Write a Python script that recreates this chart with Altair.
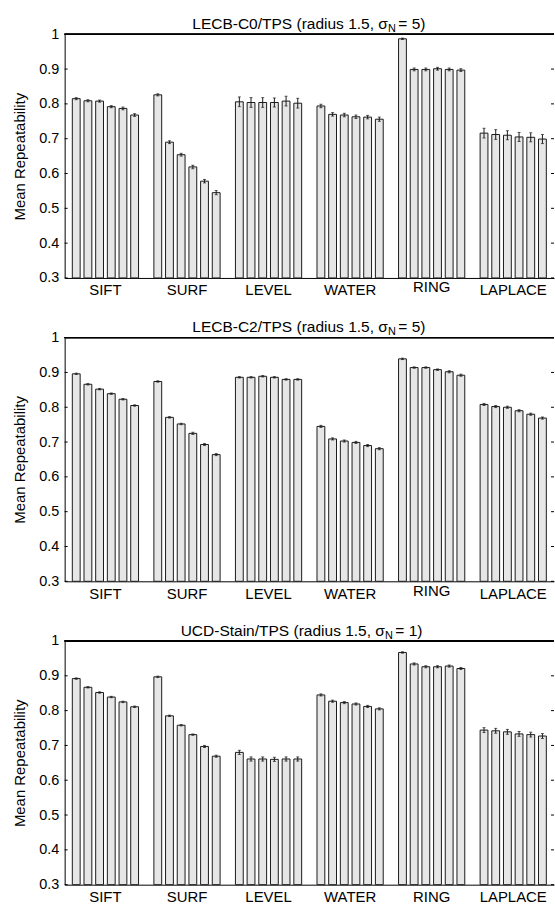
import altair as alt
import pandas as pd

groups = ["SIFT", "SURF", "LEVEL", "WATER", "RING", "LAPLACE"]
y_ticks = [0.3, 0.4, 0.5, 0.6, 0.7, 0.8, 0.9, 1.0]

# Panel 1: LECB-C0/TPS
c0_means = [
    [0.815, 0.809, 0.808, 0.792, 0.787, 0.768],
    [0.826, 0.690, 0.654, 0.619, 0.578, 0.545],
    [0.806, 0.804, 0.804, 0.804, 0.808, 0.802],
    [0.794, 0.770, 0.768, 0.763, 0.762, 0.756],
    [0.987, 0.899, 0.899, 0.901, 0.899, 0.897],
    [0.716, 0.712, 0.710, 0.705, 0.704, 0.699],
]
c0_errs = [
    [0.003, 0.003, 0.003, 0.003, 0.004, 0.004],
    [0.003, 0.004, 0.004, 0.005, 0.005, 0.006],
    [0.014, 0.014, 0.014, 0.013, 0.014, 0.014],
    [0.005, 0.005, 0.005, 0.005, 0.005, 0.006],
    [0.002, 0.004, 0.004, 0.004, 0.004, 0.004],
    [0.014, 0.014, 0.013, 0.013, 0.013, 0.013],
]

# Panel 2: LECB-C2/TPS
c2_means = [
    [0.896, 0.866, 0.852, 0.839, 0.823, 0.805],
    [0.874, 0.771, 0.752, 0.725, 0.693, 0.664],
    [0.886, 0.886, 0.889, 0.886, 0.880, 0.880],
    [0.745, 0.709, 0.703, 0.699, 0.690, 0.681],
    [0.939, 0.914, 0.914, 0.908, 0.902, 0.892],
    [0.808, 0.802, 0.800, 0.790, 0.780, 0.769],
]
c2_errs = [
    [0.002, 0.002, 0.002, 0.002, 0.002, 0.002],
    [0.002, 0.002, 0.002, 0.003, 0.003, 0.003],
    [0.002, 0.002, 0.002, 0.002, 0.002, 0.002],
    [0.003, 0.003, 0.003, 0.003, 0.003, 0.003],
    [0.002, 0.002, 0.002, 0.002, 0.003, 0.003],
    [0.003, 0.003, 0.003, 0.003, 0.003, 0.003],
]

# Panel 3: UCD-Stain/TPS
ucd_means = [
    [0.892, 0.867, 0.852, 0.839, 0.825, 0.811],
    [0.897, 0.785, 0.758, 0.731, 0.697, 0.669],
    [0.680, 0.661, 0.661, 0.660, 0.661, 0.661],
    [0.845, 0.827, 0.823, 0.819, 0.812, 0.805],
    [0.967, 0.934, 0.926, 0.926, 0.928, 0.921],
    [0.744, 0.742, 0.739, 0.733, 0.731, 0.727],
]
ucd_errs = [
    [0.002, 0.002, 0.002, 0.002, 0.002, 0.002],
    [0.002, 0.002, 0.002, 0.002, 0.003, 0.003],
    [0.006, 0.006, 0.006, 0.006, 0.006, 0.006],
    [0.003, 0.003, 0.003, 0.003, 0.003, 0.003],
    [0.002, 0.003, 0.003, 0.003, 0.003, 0.003],
    [0.007, 0.007, 0.007, 0.007, 0.007, 0.007],
]

titles = [
    ("LECB-C0/TPS (radius 1.5, \u03c3", "= 5)", 325.0, True),
    ("LECB-C2/TPS (radius 1.5, \u03c3", "= 5)", 325.0, True),
    ("UCD-Stain/TPS (radius 1.5, \u03c3", "= 1)", 322.0, False),
]

W, H = 492, 245
FONT = "Liberation Sans"
INK = "#1a1a1a"

yaxis = alt.Axis(values=y_ticks, title="Mean Repeatability", titleFontSize=15,
                 titleFontWeight="normal", labelFontSize=14.5, tickSize=0,
                 labelPadding=6, grid=False, domainColor="black",
                 labelColor="black", titleColor="black", titlePadding=11,
                 labelFont=FONT, titleFont=FONT,
                 labelExpr="datum.value == 1 ? '1' : format(datum.value, '.1f')")


def panel(means, errs, title_main, title_tail, sigma_x, ring_raised):
    rows = []
    for gi, g in enumerate(groups):
        for bi in range(6):
            m = means[gi][bi]
            e = errs[gi][bi]
            rows.append({"g": g, "b": bi, "m": m, "lo": m - e, "hi": m + e})
    df = pd.DataFrame(rows)
    base = alt.Chart(df)
    ysc = alt.Scale(domain=[0.3, 1.0], zero=False, nice=False)
    if ring_raised:
        lpad = {"condition": {"test": "datum.value === 'RING'", "value": 2}, "value": 5}
    else:
        lpad = 5
    x = alt.X("g:N", sort=groups,
              scale=alt.Scale(paddingInner=0.188, paddingOuter=0.094),
              axis=alt.Axis(title=None, labelAngle=0, ticks=False, domainColor="black",
                            labelFontSize=15, labelPadding=lpad, labelColor="black",
                            labelFont=FONT))
    xo = alt.XOffset("b:O", scale=alt.Scale(paddingInner=0.33, paddingOuter=0))

    bars = base.mark_bar(fill="#e6e6e6", stroke=INK, strokeWidth=1).encode(
        x=x, xOffset=xo,
        y=alt.Y("m:Q", scale=ysc, axis=yaxis, title="Mean Repeatability"),
        y2=alt.datum(0.3),
    )
    err = base.mark_rule(color=INK, strokeWidth=1).encode(
        x=x, xOffset=xo, y=alt.Y("lo:Q", scale=ysc, axis=yaxis, title="Mean Repeatability"),
        y2="hi:Q")
    cap_hi = base.mark_tick(color=INK, size=3, thickness=1, orient="horizontal").encode(
        x=x, xOffset=xo, y=alt.Y("hi:Q", scale=ysc, axis=yaxis, title="Mean Repeatability"))
    cap_lo = base.mark_tick(color=INK, size=3, thickness=1, orient="horizontal").encode(
        x=x, xOffset=xo, y=alt.Y("lo:Q", scale=ysc, axis=yaxis, title="Mean Repeatability"))

    tdf = pd.DataFrame({"v": y_ticks})
    tick_l = alt.Chart(tdf).mark_rule(color="black", strokeWidth=1).encode(
        y=alt.Y("v:Q", scale=ysc, axis=yaxis, title="Mean Repeatability"),
        x=alt.value(0), x2=alt.value(3))
    tick_r = alt.Chart(tdf).mark_rule(color="black", strokeWidth=1).encode(
        y=alt.Y("v:Q", scale=ysc, axis=yaxis, title="Mean Repeatability"),
        x=alt.value(W - 3), x2=alt.value(W))
    top = alt.Chart(tdf).mark_rule(color="black", strokeWidth=1).encode(
        y=alt.value(0), x=alt.value(0), x2=alt.value(W))

    one = pd.DataFrame({"a": [0]})
    t1 = alt.Chart(one).mark_text(text=title_main, align="right", baseline="alphabetic",
                                  fontSize=15.6, font=FONT, color="black").encode(
        x=alt.value(sigma_x), y=alt.value(-5.5))
    t2 = alt.Chart(one).mark_text(text="N", align="left", baseline="alphabetic",
                                  fontSize=11, font=FONT, color="black").encode(
        x=alt.value(sigma_x), y=alt.value(-2.5))
    t3 = alt.Chart(one).mark_text(text=title_tail, align="left", baseline="alphabetic",
                                  fontSize=15.6, font=FONT, color="black").encode(
        x=alt.value(sigma_x + 10.5), y=alt.value(-5.5))

    return alt.layer(bars, err, cap_hi, cap_lo, tick_l, tick_r, top, t1, t2, t3).properties(
        width=W, height=H)


p1 = panel(c0_means, c0_errs, *titles[0])
p2 = panel(c2_means, c2_errs, *titles[1])
p3 = panel(ucd_means, ucd_errs, *titles[2])

chart = alt.vconcat(p1, p2, p3, spacing=60, bounds="flush").properties(
    padding={"left": 12, "top": 14, "right": 0, "bottom": 0},
    background="white",
).configure_view(stroke=None)

chart.save("out.html", embed_options={"renderer": "svg", "actions": False})
